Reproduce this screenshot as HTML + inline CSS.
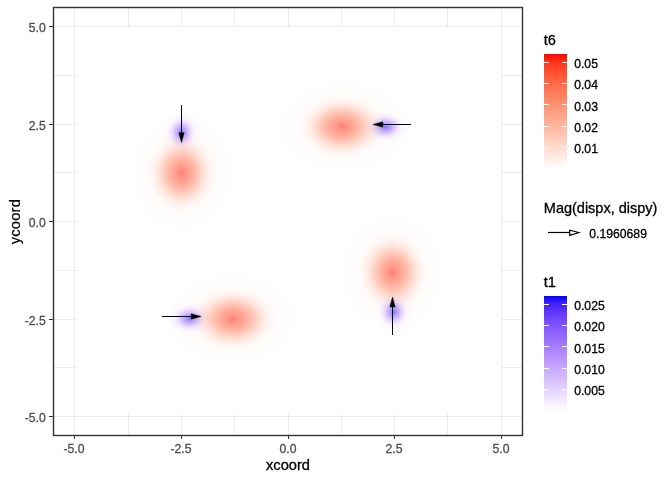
<!DOCTYPE html><html><head><meta charset="utf-8"><title>plot</title>
<style>html,body{margin:0;padding:0;background:#fff}svg{display:block}text{stroke-width:0.3px;paint-order:stroke;font-family:"Liberation Sans",Arial,sans-serif}.ax{font-size:12.2px;fill:#4d4d4d;stroke:#4d4d4d}.lg{font-size:12.2px;fill:#000;stroke:#000}.tt{font-size:14.67px;fill:#000;stroke:#000}.bl{mix-blend-mode:multiply}</style></head><body>
<svg width="672" height="480" viewBox="0 0 672 480">
<defs><radialGradient id="gr" cx="0.5" cy="0.5" r="0.5"><stop offset="0.0000" stop-color="#FF8080"/><stop offset="0.0208" stop-color="#FF8581"/><stop offset="0.0417" stop-color="#FF8E85"/><stop offset="0.0625" stop-color="#FF958A"/><stop offset="0.0833" stop-color="#FF9C8E"/><stop offset="0.1042" stop-color="#FFA192"/><stop offset="0.1250" stop-color="#FFA697"/><stop offset="0.1458" stop-color="#FFAB9B"/><stop offset="0.1667" stop-color="#FFB1A0"/><stop offset="0.1875" stop-color="#FFB7A6"/><stop offset="0.2083" stop-color="#FFBDAC"/><stop offset="0.2292" stop-color="#FFC3B3"/><stop offset="0.2500" stop-color="#FFCABB"/><stop offset="0.2708" stop-color="#FFD1C3"/><stop offset="0.2917" stop-color="#FFD7CA"/><stop offset="0.3125" stop-color="#FFDDD2"/><stop offset="0.3333" stop-color="#FFE3D9"/><stop offset="0.3542" stop-color="#FFE8E0"/><stop offset="0.3750" stop-color="#FFECE6"/><stop offset="0.3958" stop-color="#FFF0EB"/><stop offset="0.4167" stop-color="#FFF4EF"/><stop offset="0.4375" stop-color="#FFF6F3"/><stop offset="0.4583" stop-color="#FFF8F6"/><stop offset="0.4792" stop-color="#FFFAF8"/><stop offset="0.5000" stop-color="#FFFBFA"/><stop offset="0.5208" stop-color="#FFFCFB"/><stop offset="0.5417" stop-color="#FFFDFC"/><stop offset="0.5625" stop-color="#FFFDFC"/><stop offset="0.5833" stop-color="#FFFDFD"/><stop offset="0.6042" stop-color="#FFFEFD"/><stop offset="0.6250" stop-color="#FFFEFD"/><stop offset="0.6458" stop-color="#FFFEFE"/><stop offset="0.6667" stop-color="#FFFEFE"/><stop offset="0.6875" stop-color="#FFFEFE"/><stop offset="0.7083" stop-color="#FFFEFE"/><stop offset="0.7292" stop-color="#FFFEFE"/><stop offset="0.7500" stop-color="#FFFFFE"/><stop offset="0.7708" stop-color="#FFFFFE"/><stop offset="0.7917" stop-color="#FFFFFF"/><stop offset="0.8125" stop-color="#FFFFFF"/><stop offset="0.8333" stop-color="#FFFFFF"/><stop offset="0.8542" stop-color="#FFFFFF"/><stop offset="0.8750" stop-color="#FFFFFF"/><stop offset="0.8958" stop-color="#FFFFFF"/><stop offset="0.9167" stop-color="#FFFFFF"/><stop offset="0.9375" stop-color="#FFFFFF"/><stop offset="0.9583" stop-color="#FFFFFF"/><stop offset="0.9792" stop-color="#FFFFFF"/><stop offset="1.0000" stop-color="#FFFFFF"/></radialGradient><radialGradient id="gb" cx="0.5" cy="0.5" r="0.5"><stop offset="0.0000" stop-color="#8180FF"/><stop offset="0.0208" stop-color="#8982FF"/><stop offset="0.0417" stop-color="#9488FF"/><stop offset="0.0625" stop-color="#9F8FFF"/><stop offset="0.0833" stop-color="#A895FF"/><stop offset="0.1042" stop-color="#B09BFF"/><stop offset="0.1250" stop-color="#B7A1FF"/><stop offset="0.1458" stop-color="#BDA7FF"/><stop offset="0.1667" stop-color="#C3ACFF"/><stop offset="0.1875" stop-color="#C8B2FF"/><stop offset="0.2083" stop-color="#CEB8FF"/><stop offset="0.2292" stop-color="#D3BEFF"/><stop offset="0.2500" stop-color="#D8C5FF"/><stop offset="0.2708" stop-color="#DDCBFF"/><stop offset="0.2917" stop-color="#E2D1FF"/><stop offset="0.3125" stop-color="#E6D7FF"/><stop offset="0.3333" stop-color="#EADCFF"/><stop offset="0.3542" stop-color="#EDE2FF"/><stop offset="0.3750" stop-color="#F0E6FF"/><stop offset="0.3958" stop-color="#F3EAFF"/><stop offset="0.4167" stop-color="#F5EEFF"/><stop offset="0.4375" stop-color="#F7F1FF"/><stop offset="0.4583" stop-color="#F9F4FF"/><stop offset="0.4792" stop-color="#FAF6FF"/><stop offset="0.5000" stop-color="#FBF8FF"/><stop offset="0.5208" stop-color="#FCF9FF"/><stop offset="0.5417" stop-color="#FCFAFF"/><stop offset="0.5625" stop-color="#FDFBFF"/><stop offset="0.5833" stop-color="#FDFCFF"/><stop offset="0.6042" stop-color="#FEFDFF"/><stop offset="0.6250" stop-color="#FEFDFF"/><stop offset="0.6458" stop-color="#FEFDFF"/><stop offset="0.6667" stop-color="#FEFEFF"/><stop offset="0.6875" stop-color="#FEFEFF"/><stop offset="0.7083" stop-color="#FEFEFF"/><stop offset="0.7292" stop-color="#FFFEFF"/><stop offset="0.7500" stop-color="#FFFEFF"/><stop offset="0.7708" stop-color="#FFFEFF"/><stop offset="0.7917" stop-color="#FFFFFF"/><stop offset="0.8125" stop-color="#FFFFFF"/><stop offset="0.8333" stop-color="#FFFFFF"/><stop offset="0.8542" stop-color="#FFFFFF"/><stop offset="0.8750" stop-color="#FFFFFF"/><stop offset="0.8958" stop-color="#FFFFFF"/><stop offset="0.9167" stop-color="#FFFFFF"/><stop offset="0.9375" stop-color="#FFFFFF"/><stop offset="0.9583" stop-color="#FFFFFF"/><stop offset="0.9792" stop-color="#FFFFFF"/><stop offset="1.0000" stop-color="#FFFFFF"/></radialGradient></defs>
<rect width="672" height="480" fill="#fff"/>
<g stroke="#ebebeb" stroke-width="1" shape-rendering="crispEdges">
<line x1="74.5" y1="7.5" x2="74.5" y2="435.5"/>
<line x1="128.5" y1="7.5" x2="128.5" y2="435.5"/>
<line x1="181.5" y1="7.5" x2="181.5" y2="435.5"/>
<line x1="234.5" y1="7.5" x2="234.5" y2="435.5"/>
<line x1="288.5" y1="7.5" x2="288.5" y2="435.5"/>
<line x1="341.5" y1="7.5" x2="341.5" y2="435.5"/>
<line x1="394.5" y1="7.5" x2="394.5" y2="435.5"/>
<line x1="447.5" y1="7.5" x2="447.5" y2="435.5"/>
<line x1="501.5" y1="7.5" x2="501.5" y2="435.5"/>
<line x1="53.5" y1="26.5" x2="522.5" y2="26.5"/>
<line x1="53.5" y1="75.5" x2="522.5" y2="75.5"/>
<line x1="53.5" y1="124.5" x2="522.5" y2="124.5"/>
<line x1="53.5" y1="172.5" x2="522.5" y2="172.5"/>
<line x1="53.5" y1="221.5" x2="522.5" y2="221.5"/>
<line x1="53.5" y1="270.5" x2="522.5" y2="270.5"/>
<line x1="53.5" y1="319.5" x2="522.5" y2="319.5"/>
<line x1="53.5" y1="367.5" x2="522.5" y2="367.5"/>
<line x1="53.5" y1="416.5" x2="522.5" y2="416.5"/>
</g>
<rect x="77" y="27" width="424" height="387" fill="#fff"/>
<g style="isolation:isolate">
<rect x="77" y="27" width="424" height="387" fill="#fff"/>
<ellipse class="bl" cx="181.5" cy="132.2" rx="27.136" ry="30.9791" fill="url(#gb)"/>
<ellipse class="bl" cx="385.7" cy="127" rx="33.92" ry="24.7833" fill="url(#gb)"/>
<ellipse class="bl" cx="393.6" cy="311.9" rx="27.136" ry="30.9791" fill="url(#gb)"/>
<ellipse class="bl" cx="189.6" cy="318.5" rx="33.92" ry="24.7833" fill="url(#gb)"/>
<ellipse class="bl" cx="181.7" cy="173" rx="68.16" ry="77.8132" fill="url(#gr)"/>
<ellipse class="bl" cx="342" cy="126.7" rx="85.2" ry="62.2505" fill="url(#gr)"/>
<ellipse class="bl" cx="392.8" cy="272.3" rx="68.16" ry="77.8132" fill="url(#gr)"/>
<ellipse class="bl" cx="233" cy="319" rx="85.2" ry="62.2505" fill="url(#gr)"/>
</g>
<g stroke="#000" stroke-width="1.0" fill="#000" stroke-linejoin="miter" shape-rendering="crispEdges">
<line x1="181.5" y1="105" x2="181.5" y2="140.6"/>
<polygon shape-rendering="geometricPrecision" stroke-width="0.5" points="181.50,142.60 178.85,132.80 184.15,132.80"/>
<line x1="411" y1="124.5" x2="375" y2="124.5"/>
<polygon shape-rendering="geometricPrecision" stroke-width="0.5" points="373.00,124.50 382.80,121.85 382.80,127.15"/>
<line x1="392.5" y1="334.8" x2="392.5" y2="299.1"/>
<polygon shape-rendering="geometricPrecision" stroke-width="0.5" points="392.50,297.10 395.15,306.90 389.85,306.90"/>
<line x1="162" y1="316.5" x2="199" y2="316.5"/>
<polygon shape-rendering="geometricPrecision" stroke-width="0.5" points="201.00,316.50 191.20,319.15 191.20,313.85"/>
</g>
<rect x="53.5" y="7.5" width="469" height="428" fill="none" stroke="#333" stroke-width="1.4"/>
<g stroke="#333" stroke-width="1" shape-rendering="crispEdges">
<line x1="74.5" y1="436" x2="74.5" y2="439.3"/>
<line x1="181.5" y1="436" x2="181.5" y2="439.3"/>
<line x1="288.5" y1="436" x2="288.5" y2="439.3"/>
<line x1="394.5" y1="436" x2="394.5" y2="439.3"/>
<line x1="501.5" y1="436" x2="501.5" y2="439.3"/>
<line x1="49.3" y1="26.5" x2="53" y2="26.5"/>
<line x1="49.3" y1="124.5" x2="53" y2="124.5"/>
<line x1="49.3" y1="221.5" x2="53" y2="221.5"/>
<line x1="49.3" y1="319.5" x2="53" y2="319.5"/>
<line x1="49.3" y1="416.5" x2="53" y2="416.5"/>
</g>
<text class="ax" x="74" y="453" text-anchor="middle">-5.0</text>
<text class="ax" x="181" y="453" text-anchor="middle">-2.5</text>
<text class="ax" x="288" y="453" text-anchor="middle">0.0</text>
<text class="ax" x="394" y="453" text-anchor="middle">2.5</text>
<text class="ax" x="501" y="453" text-anchor="middle">5.0</text>
<text class="ax" x="45.8" y="32.1" text-anchor="end">5.0</text>
<text class="ax" x="45.8" y="129.6" text-anchor="end">2.5</text>
<text class="ax" x="45.8" y="227.1" text-anchor="end">0.0</text>
<text class="ax" x="45.8" y="324.6" text-anchor="end">-2.5</text>
<text class="ax" x="45.8" y="422.1" text-anchor="end">-5.0</text>
<text class="tt" x="288" y="469.6" text-anchor="middle">xcoord</text>
<text class="tt" style="letter-spacing:0.25px;stroke-width:0.2px" transform="translate(20,221.6) rotate(-90)" text-anchor="middle">ycoord</text>
<text class="tt" x="543.7" y="45.2">t6</text>
<linearGradient id="lgred" x1="0" y1="0" x2="0" y2="1"><stop offset="0.0000" stop-color="#FF0000"/><stop offset="0.0526" stop-color="#FF2B14"/><stop offset="0.1053" stop-color="#FF3F23"/><stop offset="0.1579" stop-color="#FF5030"/><stop offset="0.2105" stop-color="#FF5E3D"/><stop offset="0.2632" stop-color="#FF6B49"/><stop offset="0.3158" stop-color="#FF7756"/><stop offset="0.3684" stop-color="#FF8262"/><stop offset="0.4211" stop-color="#FF8E6E"/><stop offset="0.4737" stop-color="#FF997B"/><stop offset="0.5263" stop-color="#FFA388"/><stop offset="0.5789" stop-color="#FFAE94"/><stop offset="0.6316" stop-color="#FFB8A1"/><stop offset="0.6842" stop-color="#FFC2AE"/><stop offset="0.7368" stop-color="#FFCDBB"/><stop offset="0.7895" stop-color="#FFD7C9"/><stop offset="0.8421" stop-color="#FFE1D6"/><stop offset="0.8947" stop-color="#FFEBE4"/><stop offset="0.9474" stop-color="#FFF5F1"/><stop offset="1.0000" stop-color="#FFFFFF"/></linearGradient><rect x="544" y="54" width="23" height="115.2" fill="url(#lgred)"/>
<text class="tt" style="font-size:14.5px" x="543.8" y="212.8">Mag(dispx, dispy)</text>
<text class="tt" x="543.7" y="286.5">t1</text>
<linearGradient id="lgblue" x1="0" y1="0" x2="0" y2="1"><stop offset="0.0000" stop-color="#0000FF"/><stop offset="0.0526" stop-color="#391CFF"/><stop offset="0.1053" stop-color="#522CFF"/><stop offset="0.1579" stop-color="#643BFF"/><stop offset="0.2105" stop-color="#7448FF"/><stop offset="0.2632" stop-color="#8155FF"/><stop offset="0.3158" stop-color="#8E61FF"/><stop offset="0.3684" stop-color="#996DFF"/><stop offset="0.4211" stop-color="#A479FF"/><stop offset="0.4737" stop-color="#AE85FF"/><stop offset="0.5263" stop-color="#B891FF"/><stop offset="0.5789" stop-color="#C19DFF"/><stop offset="0.6316" stop-color="#C9A9FF"/><stop offset="0.6842" stop-color="#D2B5FF"/><stop offset="0.7368" stop-color="#DAC1FF"/><stop offset="0.7895" stop-color="#E2CEFF"/><stop offset="0.8421" stop-color="#E9DAFF"/><stop offset="0.8947" stop-color="#F1E6FF"/><stop offset="0.9474" stop-color="#F8F3FF"/><stop offset="1.0000" stop-color="#FFFFFF"/></linearGradient><rect x="544" y="296" width="23" height="115.2" fill="url(#lgblue)"/>
<g stroke="#fff" stroke-width="1" shape-rendering="crispEdges">
<line x1="544" y1="62.5" x2="548.6" y2="62.5"/><line x1="562.4" y1="62.5" x2="567" y2="62.5"/>
<line x1="544" y1="83.5" x2="548.6" y2="83.5"/><line x1="562.4" y1="83.5" x2="567" y2="83.5"/>
<line x1="544" y1="104.5" x2="548.6" y2="104.5"/><line x1="562.4" y1="104.5" x2="567" y2="104.5"/>
<line x1="544" y1="126.5" x2="548.6" y2="126.5"/><line x1="562.4" y1="126.5" x2="567" y2="126.5"/>
<line x1="544" y1="147.5" x2="548.6" y2="147.5"/><line x1="562.4" y1="147.5" x2="567" y2="147.5"/>
<line x1="544" y1="304.5" x2="548.6" y2="304.5"/><line x1="562.4" y1="304.5" x2="567" y2="304.5"/>
<line x1="544" y1="325.5" x2="548.6" y2="325.5"/><line x1="562.4" y1="325.5" x2="567" y2="325.5"/>
<line x1="544" y1="346.5" x2="548.6" y2="346.5"/><line x1="562.4" y1="346.5" x2="567" y2="346.5"/>
<line x1="544" y1="368.5" x2="548.6" y2="368.5"/><line x1="562.4" y1="368.5" x2="567" y2="368.5"/>
<line x1="544" y1="389.5" x2="548.6" y2="389.5"/><line x1="562.4" y1="389.5" x2="567" y2="389.5"/>
</g>
<text class="lg" x="574.2" y="67.95">0.05</text>
<text class="lg" x="574.2" y="89.31">0.04</text>
<text class="lg" x="574.2" y="110.67">0.03</text>
<text class="lg" x="574.2" y="132.03">0.02</text>
<text class="lg" x="574.2" y="153.39">0.01</text>
<text class="lg" x="574.2" y="310.2">0.025</text>
<text class="lg" x="574.2" y="331.42">0.020</text>
<text class="lg" x="574.2" y="352.64">0.015</text>
<text class="lg" x="574.2" y="373.86">0.010</text>
<text class="lg" x="574.2" y="395.08">0.005</text>
<g stroke="#000" stroke-width="1.2"><line x1="548" y1="232.5" x2="570" y2="232.5"/><polygon points="578.8,232.5 569.7,230.2 569.7,235.4" fill="#fff" stroke-linejoin="miter"/></g>
<text class="lg" x="589.3" y="238">0.1960689</text>
</svg></body></html>
